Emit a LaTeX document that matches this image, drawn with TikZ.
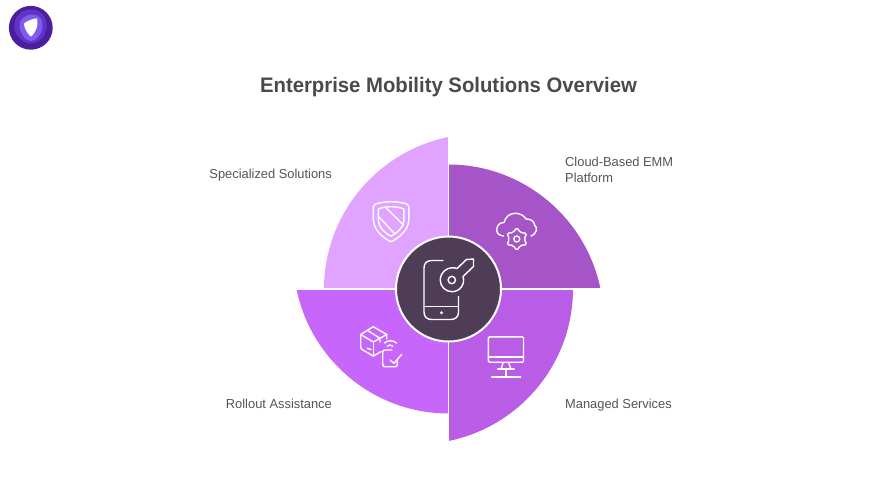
\documentclass[tikz,border=0pt]{standalone}
\usepackage{fontspec}
\setmainfont{Liberation Sans}
\newfontfamily\titlefont[FakeStretch=0.967]{Liberation Sans}
\newfontfamily\labelfont[FakeStretch=0.99]{Liberation Sans}
\definecolor{secTL}{HTML}{E0A3FF}
\definecolor{secTR}{HTML}{A555C8}
\definecolor{secBR}{HTML}{B95CE6}
\definecolor{secBL}{HTML}{C766FB}
\definecolor{hub}{HTML}{4F3D57}
\definecolor{txt}{HTML}{4A4A4A}
\definecolor{lab}{HTML}{555555}
\definecolor{logoA}{HTML}{4A1E9E}
\definecolor{logoB}{HTML}{5F35C4}
\definecolor{logoC}{HTML}{7F5CF0}
\tikzset{
  divider/.style={draw=white,line width=1.8pt},
  icon/.style={draw=white,line width=1.4pt,line cap=round,line join=round},
  label/.style={font=\labelfont\fontsize{13}{16}\selectfont,text=lab,inner sep=0pt,align=left},
  titletext/.style={font=\titlefont\bfseries\fontsize{21}{25}\selectfont,text=txt,inner sep=0pt},
}
\begin{document}
\begin{tikzpicture}[x=1pt,y=-1pt]
\useasboundingbox[fill=white] (0,0) rectangle (876,493);
% logo
\fill[logoA] (30.8,27.8) circle (21.9);
\fill[logoB] (31,9.5) .. controls (42,9.5) and (47.5,18) .. (46.5,28) .. controls (45.5,37) and (38,43.5) .. (31,43.5) .. controls (24,43.5) and (15.5,37) .. (14.5,28) .. controls (13.5,18) and (20,9.5) .. (31,9.5) -- cycle;
\fill[logoC] (32,14.5) .. controls (39,14.5) and (43,19) .. (42.5,26) .. controls (42,34) and (36,41) .. (31,41) .. controls (26,41) and (20,34) .. (19.5,26) .. controls (19,20) and (25,14.5) .. (32,14.5) -- cycle;
\draw[fill=white,draw=white,line width=2.4pt,line join=round] (25.2,24) .. controls (29,21.5) and (33,20) .. (36.2,19.6) .. controls (37,25) and (35,31) .. (31,35.2) .. controls (28,32) and (25.5,28) .. (25.2,24) -- cycle;
% title
\node[titletext,anchor=base] (title) at (448.5,92.5) {Enterprise Mobility Solutions Overview};
% sectors
\fill[secTL] (448.5,289) -- (324,289) .. controls (324,215.3) and (376.3,151.8) .. (448.5,137) -- cycle;
\fill[secTR] (448.5,289) -- (448.5,164.5) .. controls (522.2,164.5) and (585.7,216.8) .. (600.5,289) -- cycle;
\fill[secBR] (448.5,289) -- (573,289) .. controls (573,362.7) and (520.7,426.2) .. (448.5,441) -- cycle;
\fill[secBL] (448.5,289) -- (448.5,413.5) .. controls (374.8,413.5) and (311.3,361.2) .. (296.5,289) -- cycle;
% dividers
\coordinate (dT) at (448.5,130);
\coordinate (dB) at (448.5,448);
\coordinate (dL) at (290,289);
\coordinate (dR) at (607,289);
\draw[divider] (dT) -- (dB);
\draw[divider] (dL) -- (dR);
% hub
\node[circle,fill=hub,draw=white,line width=2pt,minimum size=105pt,inner sep=0pt] (hub) at (448.5,289) {};
% labels
\node[label,anchor=base east] (l1) at (332,178.5) {Specialized Solutions};
\node[label,anchor=west] (l2) at (565,169.5) {Cloud-Based EMM\\Platform};
\node[label,anchor=base east] (l3) at (332,408.5) {Rollout Assistance};
\node[label,anchor=base west] (l4) at (565,408.5) {Managed Services};
% shield
\draw[icon] (391,201.7) .. controls (385,201.7) and (379,202.7) .. (375,204.2) .. controls (374,204.6) and (373.4,205.4) .. (373.4,206.5) -- (373.4,220) .. controls (373.8,230) and (383,238) .. (391,241.7) .. controls (399,238) and (408.4,230) .. (408.8,220) -- (408.8,206.5) .. controls (408.8,205.4) and (408.2,204.6) .. (407,204.2) .. controls (403,202.7) and (397,201.7) .. (391,201.7) -- cycle;
\draw[icon] (391,206.7) .. controls (386,206.7) and (381,207.7) .. (378.4,209) -- (378.4,221) .. controls (379,228) and (385,233) .. (391,236.2) .. controls (397,233) and (403.2,228) .. (403.8,221) -- (403.8,209) .. controls (401,207.7) and (396,206.7) .. (391,206.7) -- cycle;
\draw[icon] (378.8,216.8) -- (394.5,233.5);
\draw[icon] (386,207.8) -- (403.5,225);
% cloud + gear
\draw[icon] (503.5,236) .. controls (498.5,235.5) and (496.5,232.5) .. (496.7,229.5) .. controls (497,225) and (500,222.5) .. (504,222.5) .. controls (505.5,216.5) and (510,213.3) .. (515.5,213.3) .. controls (520,213.3) and (524,215.5) .. (526,219) .. controls (531,218.5) and (534.5,222) .. (534.5,225) .. controls (537.5,227) and (537.5,233.5) .. (531,236);
\begin{scope}[shift={(516.8,239)}]
\draw[icon,rounded corners=1.7pt] (90:11.6) -- (120:7.3) -- (150:11.6) -- (180:7.3) -- (210:11.6) -- (240:7.3) -- (270:11.6) -- (300:7.3) -- (330:11.6) -- (0:7.3) -- (30:11.6) -- (60:7.3) -- cycle;
\draw[icon] (0,0) circle (3);
\end{scope}
% phone + key
\draw[icon] (443,260.5) -- (432,260.5) .. controls (427,260.5) and (424,263) .. (424,268) -- (424,312) .. controls (424,317) and (427,319.5) .. (432,319.5) -- (450.5,319.5) .. controls (455.5,319.5) and (458.5,317) .. (458.5,312) -- (458.5,296.5);
\draw[icon] (424,306.5) -- (458.5,306.5);
\fill[white] (441.5,312.8) circle (1.6);
\draw[icon] (451.8,280) circle (3.7);
\draw[icon] (473.5,259) -- (466.5,259.5) -- (457,268.5) .. controls (449,265.5) and (440.3,271.5) .. (440.2,280) .. controls (440.2,287) and (446,291.7) .. (452,291.7) .. controls (460,291.7) and (465.5,284) .. (463,276.5) -- (473.5,266.5) -- cycle;
% box
\draw[icon] (381,351.7) -- (373.3,356) -- (362,349.5) .. controls (361,349) and (360.7,348.5) .. (360.7,347.5) -- (360.7,334.5) -- (373.3,326.7) -- (386.7,334.5) -- (386.7,339);
\draw[icon] (360.7,334.5) -- (373.3,342) -- (386.7,334.5);
\draw[icon] (373.3,342) -- (373.3,356);
\draw[icon] (367.3,330.3) -- (380,338.3) -- (380,342);
\draw[icon] (367.3,348.3) -- (371,349.5);
% tablet
\draw[icon] (392,350) -- (385,350) .. controls (383.3,350) and (382.7,351) .. (382.7,352.5) -- (382.7,364) .. controls (382.7,366) and (383.5,366.7) .. (385,366.7) -- (395,366.7) .. controls (396.7,366.7) and (397.3,366) .. (397.3,364) -- (397.3,361);
\draw[icon] (390,360) -- (394,363.3) -- (401.7,354.3);
\draw[icon] (387.3,346.2) .. controls (389,344.6) and (391,344.6) .. (392.7,346.2);
\draw[icon] (384.5,343) .. controls (388,340) and (393,340) .. (396.5,343);
% monitor
\draw[icon,rounded corners=1.2pt] (488.3,336.8) rectangle (523.5,362.2);
\draw[icon] (488.3,356.8) -- (523.5,356.8);
\draw[icon] (503.3,362.2) -- (501,369);
\draw[icon] (508.5,362.2) -- (510.8,369);
\draw[icon] (497.7,369) -- (514.3,369);
\draw[icon] (506,369) -- (506,376.8);
\draw[icon] (491.7,376.8) -- (520.7,376.8);
\end{tikzpicture}
\end{document}
